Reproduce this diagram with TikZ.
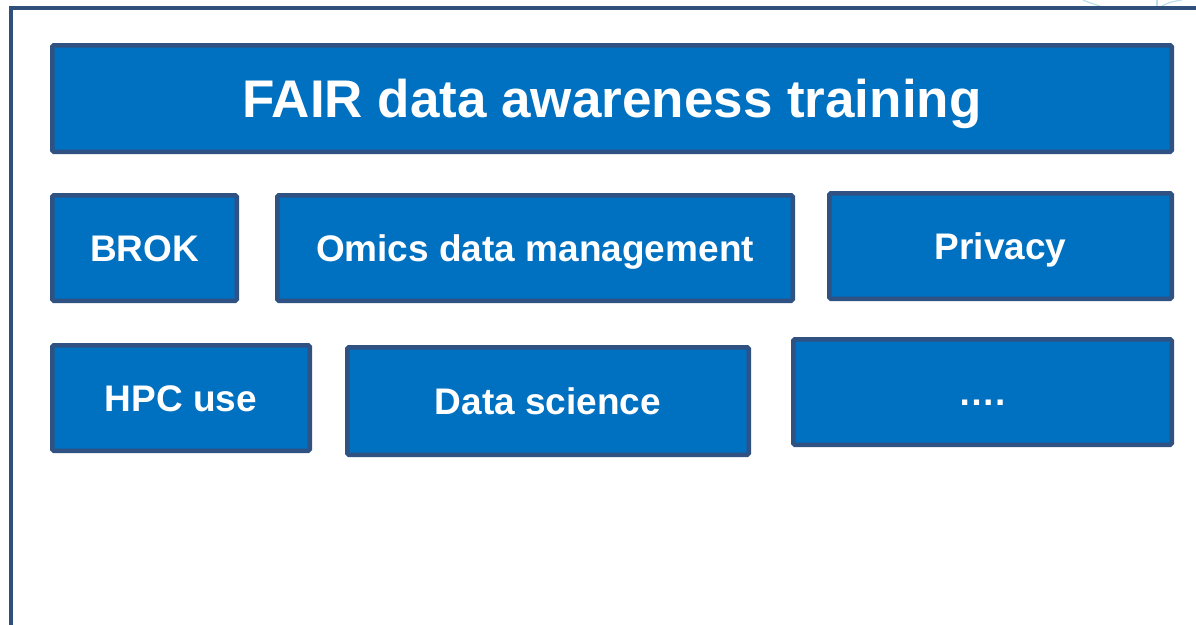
\documentclass[tikz,border=0pt]{standalone}
\usepackage{fontspec}
\setmainfont{Liberation Sans}
\definecolor{boxfill}{RGB}{0,112,192}
\definecolor{boxline}{RGB}{47,82,131}
\definecolor{frameline}{RGB}{46,80,122}
\definecolor{faint}{RGB}{190,222,236}
\tikzset{
  box/.style={draw=boxline, fill=boxfill, line width=4.5pt, rounded corners=1.5pt,
    text=white, font=\bfseries\fontsize{37}{37}\selectfont, inner sep=0pt,
    text height=26.5pt, text depth=0pt, align=center},
  titlebox/.style={box, font=\bfseries\fontsize{53}{53}\selectfont, text height=38pt}
}
\begin{document}
\begin{tikzpicture}[x=1pt,y=-1pt]
\useasboundingbox (0,0) rectangle (1196,624);
\fill[white] (0,0) rectangle (1196,624);
% faint cut-off shapes top right
\draw[faint, line width=1.2pt] (1083,0) .. controls (1090,3) .. (1100,6);
\draw[faint, line width=1.2pt] (1157,0) -- (1157,6);
\draw[faint, line width=1.2pt] (1162,6) .. controls (1170,2) .. (1182,0);
% outer frame
\draw[frameline, line width=4.5pt] (11,630) -- (11,8) -- (1200,8);
% boxes
\node[titlebox, minimum width=1119.5pt, minimum height=106.5pt] (title) at (612,98.5) {FAIR data awareness training};
\node[box, minimum width=184.5pt, minimum height=105.5pt] (brok) at (144.5,248) {BROK};
\node[box, minimum width=515.5pt, minimum height=105.5pt] (omics) at (535,248) {Omics data management};
\node[box, minimum width=342.5pt, minimum height=105.5pt] (privacy) at (1000.5,246) {Privacy};
\node[box, minimum width=257.5pt, minimum height=105.5pt] (hpc) at (181,398) {HPC use};
\node[box, minimum width=401.5pt, minimum height=107.5pt] (datasci) at (548,401) {Data science};
\node[box, minimum width=378.5pt, minimum height=105.5pt] (more) at (982.5,392) {….};
\end{tikzpicture}
\end{document}
